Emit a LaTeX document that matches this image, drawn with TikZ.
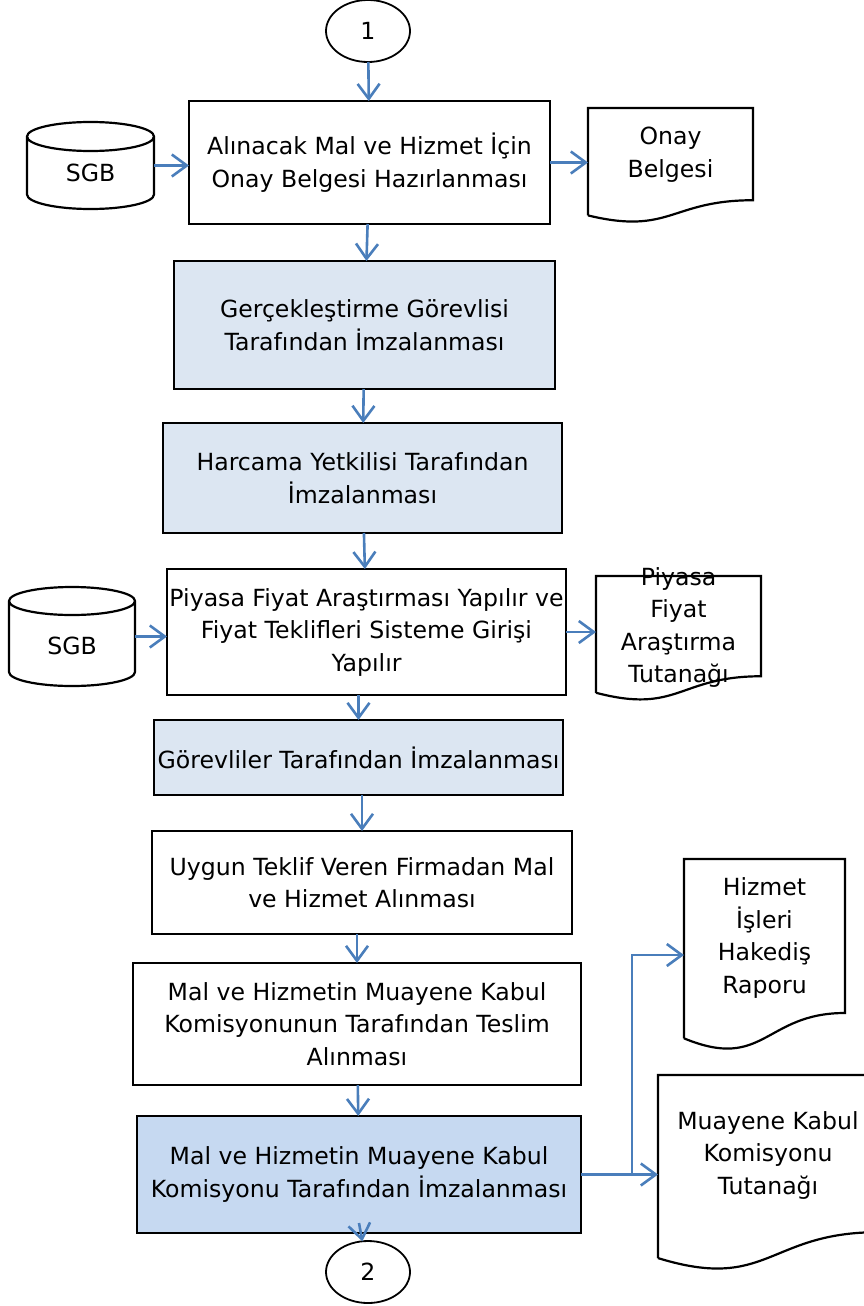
\documentclass[tikz,border=0pt]{standalone}
\usepackage{fontspec}
\setmainfont{DejaVu Sans}
\usetikzlibrary{arrows.meta,calc,shapes.geometric}
\definecolor{arrblue}{RGB}{74,126,187}
\definecolor{lightfill}{RGB}{220,230,242}
\definecolor{midfill}{RGB}{198,217,241}
\newcommand{\boxfont}{\fontsize{23.6pt}{32.5pt}\selectfont}
\tikzset{
  box/.style={draw, line width=2.2pt, align=center, inner sep=0pt, outer sep=0pt, font=\boxfont},
  shade1/.style={box, fill=lightfill},
  shade2/.style={box, fill=midfill},
  conn/.style={ellipse, draw, line width=1.8pt, minimum width=84pt, minimum height=62pt, inner sep=0pt, outer sep=0pt, font=\boxfont},
  shell/.style={inner sep=0pt, outer sep=0pt},
  doctext/.style={align=center, inner sep=0pt, font=\boxfont},
  arr/.style={draw=arrblue, line width=2.6pt, -{Straight Barb[length=15pt,width=22pt]}},
}
%documento con bordo ondulato
\newcommand{\docpath}[1]{%
  \draw[line width=2.2pt] ($(#1.north west)!0.934!(#1.south west)$) -- (#1.north west) -- (#1.north east)
    -- ($(#1.north east)!0.802!(#1.south east)$)
    .. controls ($(#1.north)!0.802!(#1.south)$) and ($(#1.north)!1.1075!(#1.south)$) .. ($(#1.north west)!0.934!(#1.south west)$);}
%cilindro
\newcommand{\cylpath}[3]{%
  \draw[line width=2.2pt] ([yshift=-#3]#1.north west) -- ([yshift=#3]#1.south west)
    arc[start angle=180, end angle=360, x radius=#2, y radius=#3] -- ([yshift=-#3]#1.north east)
    arc[start angle=0, end angle=360, x radius=#2, y radius=#3];}
\begin{document}
\begin{tikzpicture}[x=1pt,y=-1pt]
    \useasboundingbox (0,0) rectangle (864,1306);
    \node[conn] (c1) at (368,31) {1};
    \node[box, minimum width=361pt, minimum height=123pt] (b1) at (369.5,162.5) {Alınacak Mal ve Hizmet İçin\\Onay Belgesi Hazırlanması};
    \node[shell, minimum width=127pt, minimum height=87pt] (s1) at (90.5,165.5) {};
    \cylpath{s1}{63.5pt}{14.5pt}
    \node[doctext] (s1t) at ([yshift=-7pt]s1) {SGB};
    \node[shell, minimum width=165pt, minimum height=115pt] (d1) at (670.5,165.5) {};
    \docpath{d1}
    \node[doctext] (d1t) at ([yshift=11pt]d1) {Onay\\Belgesi};
    \node[shade1, minimum width=381pt, minimum height=128pt] (b2) at (364.5,325) {Gerçekleştirme Görevlisi\\Tarafından İmzalanması};
    \node[shade1, minimum width=399pt, minimum height=110pt] (b3) at (362.5,478) {Harcama Yetkilisi Tarafından\\İmzalanması};
    \node[box, minimum width=399pt, minimum height=126pt] (b4) at (366.5,632) {Piyasa Fiyat Araştırması Yapılır ve\\Fiyat Teklifleri Sisteme Girişi\\Yapılır};
    \node[shell, minimum width=126pt, minimum height=99pt] (s2) at (72,636.5) {};
    \cylpath{s2}{63pt}{14pt}
    \node[doctext] (s2t) at ([yshift=-9pt]s2) {SGB};
    \node[shell, minimum width=165pt, minimum height=125pt] (d2) at (678.5,638.5) {};
    \docpath{d2}
    \node[doctext] (d2t) at ([yshift=11pt]d2) {Piyasa\\Fiyat\\Araştırma\\Tutanağı};
    \node[shade1, minimum width=409pt, minimum height=75pt] (b5) at (358.5,757.5) {Görevliler Tarafından İmzalanması};
    \node[box, minimum width=420pt, minimum height=103pt] (b6) at (362,882.5) {Uygun Teklif Veren Firmadan Mal\\ve Hizmet Alınması};
    \node[box, minimum width=448pt, minimum height=122pt] (b7) at (357,1024) {Mal ve Hizmetin Muayene Kabul\\Komisyonunun Tarafından Teslim\\Alınması};
    \node[shade2, minimum width=444pt, minimum height=117pt] (b8) at (359,1174.5) {Mal ve Hizmetin Muayene Kabul\\Komisyonu Tarafından İmzalanması};
    \node[shell, minimum width=161pt, minimum height=192pt] (d3) at (764.5,955) {};
    \docpath{d3}
    \node[doctext] (d3t) at ([yshift=17pt]d3) {Hizmet\\İşleri\\Hakediş\\Raporu};
    \node[shell, minimum width=220pt, minimum height=196pt] (d4) at (768,1173) {};
    \docpath{d4}
    \node[doctext] (d4t) at ([yshift=18pt]d4) {Muayene Kabul\\Komisyonu\\Tutanağı};
    \node[conn] (c2) at (368,1272) {2};
    \coordinate (jn) at (632,955);
    %frecce
    \draw[arr] (c1) -- (b1);
    \draw[arr] (s1) -- (s1 -| b1.west);
    \draw[arr] (b1) -- (b1 -| d1.west);
    \draw[arr] (b1) -- (b2);
    \draw[arr] (b2) -- (b3);
    \draw[arr] (b3) -- (b4);
    \draw[arr] (s2) -- (s2 -| b4.west);
    \draw[arr] (b4) -- (b4 -| d2.west);
    \draw[arr] (b4.south -| b5) -- (b5);
    \draw[arr] (b5.south -| b6) -- (b6);
    \draw[arr] (b6.south -| b7) -- (b7);
    \draw[arr] (b7) -- (b8);
    \draw[arr] (b8) -- (b8 -| d4.west);
    \draw[arr] (b8.east) -| (jn) -- (jn -| d3.west);
    \draw[arr] ([yshift=10pt]b8.south) -- (c2);
\end{tikzpicture}
\end{document}
